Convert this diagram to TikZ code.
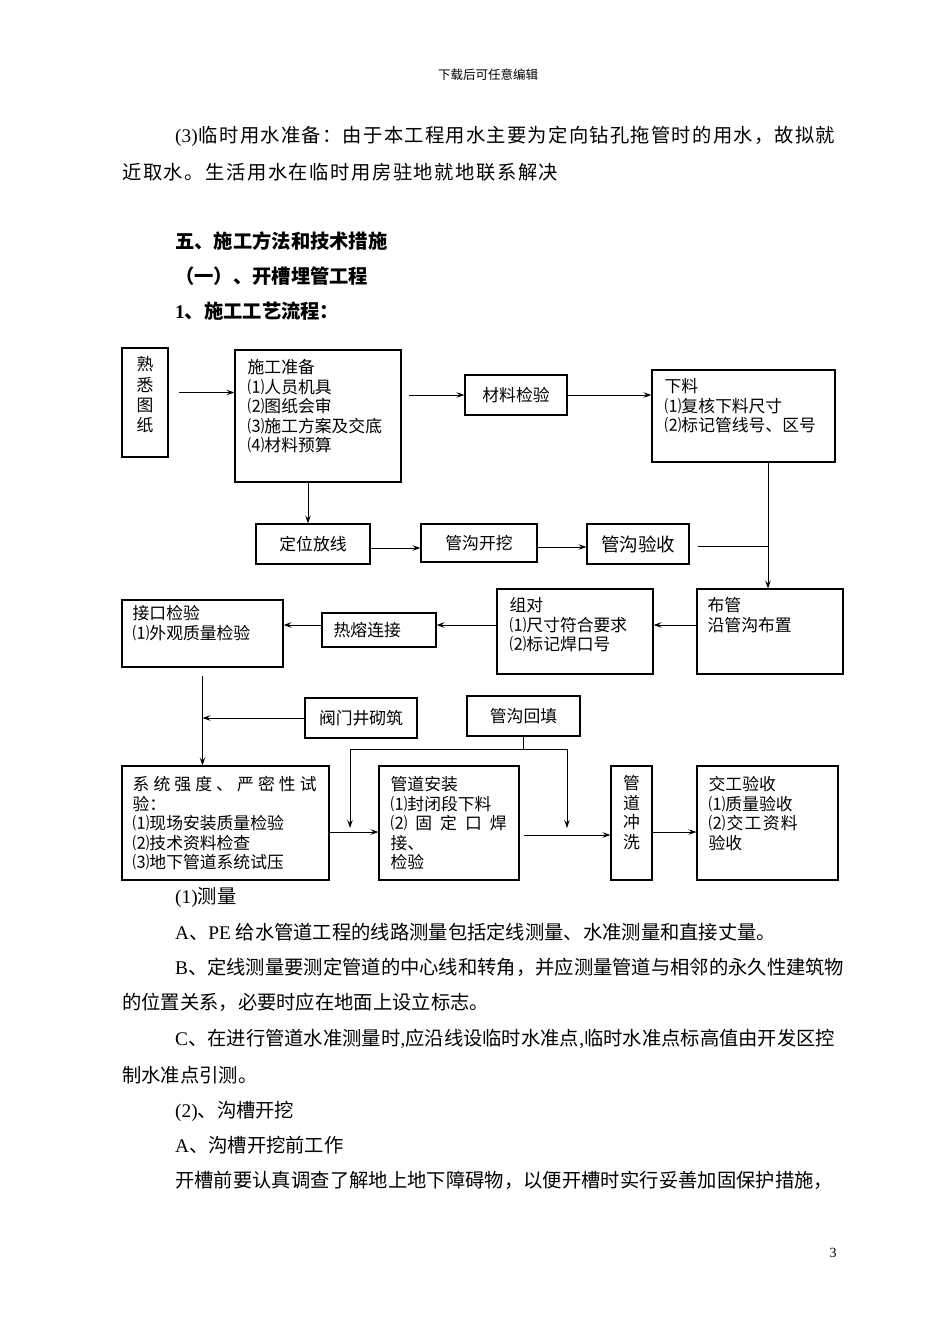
\documentclass[tikz,border=0pt]{standalone}
\usepackage{fontspec}
\setmainfont{Noto Sans CJK SC}
\newfontfamily\lat{Liberation Serif}
\usetikzlibrary{arrows.meta}
\makeatletter
\newcommand\spreadtext[2]{\makebox[#1][s]{\def\spsep{}\@tfor\spc:=#2\do{\spsep{\spc}\def\spsep{\hfil}}}}
\makeatother
\newcommand\bx[5]{\node[box,minimum width={#4-#2},minimum height={#5-#3}] (#1) at ({(#2+#4)/2},{(#3+#5)/2}) {};}
\begin{document}
\begin{tikzpicture}[x=1pt,y=-1pt,
  box/.style={draw,line width=1.1pt,inner sep=0pt},
  bt/.style={inner sep=0pt,anchor=north west,align=left,font=\fontsize{16.8}{19.5}\selectfont},
  bc/.style={inner sep=0pt,font=\fontsize{16.8}{19.5}\selectfont},
  vt/.style={inner sep=0pt,anchor=north,align=center,font=\fontsize{16.8}{20.3}\selectfont},
  body/.style={inner sep=0pt,anchor=base west,font=\fontsize{19.3}{22}\selectfont},
  head/.style={body,font=\fontsize{19.3}{22}\selectfont\bfseries},
  arr/.style={line width=1pt,-{Stealth[length=8pt,width=5.5pt,inset=3pt]}},
  ln/.style={line width=1pt}]
\useasboundingbox[fill=white] (0,0) rectangle (950,1344);

% header and text above
\node[inner sep=0pt,font=\fontsize{12.5}{14}\selectfont] (hdr) at (488,75) {下载后可任意编辑};
\node[body] (p1) at (175,142) {\spreadtext{660pt}{{\lat (3)}临时用水准备：由于本工程用水主要为定向钻孔拖管时的用水，故拟就}};
\node[body] (p2) at (122,179) {\spreadtext{436pt}{近取水。生活用水在临时用房驻地就地联系解决}};
\node[head] (h1) at (175,248) {五、施工方法和技术措施};
\node[head] (h2) at (175,283) {（一）、开槽埋管工程};
\node[head] (h3) at (175,318) {{\lat\bfseries 1}、施工工艺流程：};

% boxes
\bx{fam}{122}{348}{168}{457}
\bx{prep}{235}{350}{401}{482}
\bx{matl}{465}{375}{567}{415}
\bx{cut}{652}{370}{835}{462}
\bx{loc}{256}{524}{370}{564}
\bx{dig}{421}{524}{537}{562}
\bx{acc}{587}{524}{689}{564}
\bx{joint}{122}{600}{283}{667}
\bx{fuse}{322}{613}{436}{647}
\bx{pair}{497}{589}{653}{674}
\bx{lay}{697}{589}{843}{674}
\bx{valve}{305}{698}{417}{738}
\bx{fill}{467}{696}{580}{736}
\bx{test}{122}{766}{329}{880}
\bx{inst}{379}{766}{519}{880}
\bx{flush}{611}{766}{652}{880}
\bx{final}{697}{766}{838}{880}

% box texts
\node[vt] (fam-t) at ([yshift=-9pt]fam.north) {熟\\悉\\图\\纸};
\node[bt] (prep-t) at ([shift={(13,10)}]prep.north west) {施工准备\\⑴人员机具\\⑵图纸会审\\⑶施工方案及交底\\⑷材料预算};
\node[bc] (matl-t) at (matl) {材料检验};
\node[bt] (cut-t) at ([shift={(13,9)}]cut.north west) {下料\\⑴复核下料尺寸\\⑵标记管线号、区号};
\node[bc] (loc-t) at (loc) {定位放线};
\node[bc] (dig-t) at (dig) {管沟开挖};
\node[bc,font=\fontsize{18.5}{20}\selectfont] (acc-t) at (acc) {管沟验收};
\node[bt] (joint-t) at ([shift={(11,6)}]joint.north west) {接口检验\\⑴外观质量检验};
\node[bc,anchor=west] (fuse-t) at ([xshift=12pt]fuse.west) {热熔连接};
\node[bt] (pair-t) at ([shift={(13,9)}]pair.north west) {组对\\⑴尺寸符合要求\\⑵标记焊口号};
\node[bt] (lay-t) at ([shift={(11,9)}]lay.north west) {布管\\沿管沟布置};
\node[bc] (valve-t) at (valve) {阀门井砌筑};
\node[bc] (fill-t) at (fill) {管沟回填};
\node[bt] (test-t) at ([shift={(11,11)}]test.north west) {\spreadtext{184pt}{系统强度、严密性试}\\验：\\⑴现场安装质量检验\\⑵技术资料检查\\⑶地下管道系统试压};
\node[bt] (inst-t) at ([shift={(12,11)}]inst.north west) {管道安装\\⑴封闭段下料\\\spreadtext{116pt}{⑵固定口焊}\\接、\\检验};
\node[vt,font=\fontsize{16.8}{19.5}\selectfont] (flush-t) at ([yshift=-10pt]flush.north) {管\\道\\冲\\洗};
\node[bt] (final-t) at ([shift={(12,11)}]final.north west) {交工验收\\⑴质量验收\\\spreadtext{89pt}{⑵交工资料}\\验收};

% connectors
\draw[arr] ([shift={(10,-10)}]fam.east) coordinate (a1) -- (a1 -| prep.west);
\draw[arr] (prep.east |- matl.west) ++(7,0) -- (matl.west);
\draw[arr] (matl.east) -- (matl.east -| cut.west);
\draw[arr] ([xshift=-10pt]prep.south) -- ([xshift=-10pt]prep.south |- loc.north);
\draw[arr] (loc.east |- 0,548) -- (dig.west |- 0,548);
\draw[arr] (dig.east |- 0,547) -- (acc.west |- 0,547);
\coordinate (jx) at (768,546);
\draw[ln] (acc.east |- jx) ++(8,0) -- (jx);
\draw[arr] (cut.south -| jx) -- (lay.north -| jx);
\draw[arr] (lay.west |- 0,625) -- (pair.east |- 0,625);
\draw[arr] (pair.west |- 0,625) -- (fuse.east |- 0,625);
\draw[arr] (fuse.west |- 0,625) -- (joint.east |- 0,625);
\draw[arr] ([yshift=-8pt]joint.south) -- (test.north -| joint.south);
\draw[arr] (valve.west) -- (valve.west -| joint.south);
\coordinate (busL) at (350,749);
\coordinate (busR) at (567,749);
\coordinate (dL) at (350,828);
\coordinate (dR) at (567,828);
\draw[ln] (fill.south) -- (fill.south |- busL);
\draw[ln] (busL) -- (busR);
\draw[arr] (busL) -- (dL);
\draw[arr] (busR) -- (dR);
\draw[arr] (test.east |- 0,832) -- (inst.west |- 0,832);
\draw[arr] (inst.east |- 0,835) ++(4,0) -- (flush.west |- 0,835);
\draw[arr] (flush.east |- 0,832) -- (final.west |- 0,832);

% text below
\node[body] (q1) at (175,903) {{\lat (1)}测量};
\node[body] (q2) at (175,939) {{\lat A}、{\lat PE }给水管道工程的线路测量包括定线测量、水准测量和直接丈量。};
\node[body] (q3) at (175,974) {\spreadtext{660pt}{{\lat B}、定线测量要测定管道的中心线和转角，并应测量管道与相邻的永久性建筑物}};
\node[body] (q4) at (122,1009) {的位置关系，必要时应在地面上设立标志。};
\node[body] (q5) at (175,1045) {\spreadtext{660pt}{{\lat C}、在进行管道水准测量时{\lat ,}应沿线设临时水准点{\lat ,}临时水准点标高值由开发区控}};
\node[body] (q6) at (122,1082) {制水准点引测。};
\node[body] (q7) at (175,1117) {{\lat (2)}、沟槽开挖};
\node[body] (q8) at (175,1152) {{\lat A}、沟槽开挖前工作};
\node[body] (q9) at (175,1187) {\spreadtext{658pt}{开槽前要认真调查了解地上地下障碍物，以便开槽时实行妥善加固保护措施，}};
\node[inner sep=0pt,font=\fontsize{14}{16}\selectfont\lat] (pg) at (833,1253) {3};
\end{tikzpicture}
\end{document}
